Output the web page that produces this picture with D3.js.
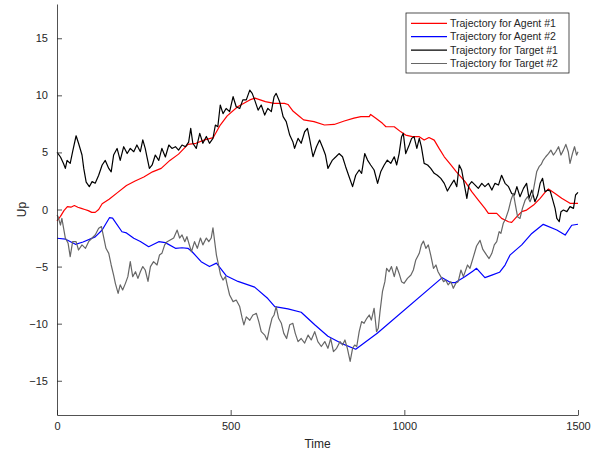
<!DOCTYPE html>
<html>
<head>
<meta charset="utf-8">
<script src="https://cdn.jsdelivr.net/npm/d3@7"></script>
<style>
  body { margin: 0; background: #fff; }
  svg text { font-family: "Liberation Sans", Arial, Helvetica, sans-serif; fill: #262626; }
  .axis path, .axis line { stroke: #262626; stroke-width: 0.8; }
  .traj { fill: none; stroke-width: 1.2; stroke-linejoin: round; }
</style>
</head>
<body>
<svg id="chart" width="605" height="455"></svg>
<script>
var seriesNames = ["Trajectory for Agent #1", "Trajectory for Agent #2", "Trajectory for Target #1", "Trajectory for Target #2"];
var seriesColors = ["#ff0000", "#0000ff", "#000000", "#666666"];
var xTicks = [0, 500, 1000, 1500];
var yTicks = [-15, -10, -5, 0, 5, 10, 15];

// [time, up]
var agent1 = [[0,-1.0],[10,-0.6],[20,-0.1],[30,0.25],[40,0.2],[50,0.35],[60,0.2],[70,0.1],[80,0.0],[90,-0.1],[100,-0.25],[110,-0.25],[120,0.0],[130,0.5],[150,0.9],[175,1.5],[200,2.1],[225,2.5],[250,2.85],[275,3.3],[300,3.6],[325,4.3],[350,4.85],[377,5.7],[400,5.8],[425,6.1],[450,6.3],[470,7.4],[490,8.2],[520,9.0],[555,9.6],[570,9.75],[600,9.45],[625,9.3],[655,9.3],[665,9.2],[680,8.6],[700,8.1],[710,7.85],[740,7.7],[770,7.4],[798,7.45],[827,7.75],[855,8.0],[875,8.13],[899,8.13],[903,8.33],[918,8.0],[937,7.55],[947,7.25],[971,7.25],[990,6.8],[1004,6.52],[1023,6.38],[1043,6.38],[1057,6.08],[1071,6.3],[1086,6.08],[1100,5.35],[1115,4.62],[1134,3.9],[1150,3.3],[1175,2.44],[1194,1.56],[1213,0.83],[1232,0.1],[1242,-0.34],[1266,-0.34],[1280,-0.78],[1300,-1.07],[1309,-1.13],[1324,-0.63],[1338,-0.19],[1352,-0.05],[1372,0.39],[1391,0.98],[1405,1.5],[1415,1.8],[1434,1.41],[1453,0.98],[1477,0.54],[1500,0.54]];

var agent2 = [[0,-2.52],[25,-2.6],[53,-3.05],[75,-2.85],[110,-2.4],[130,-1.8],[151,-0.72],[160,-0.75],[187,-1.95],[200,-2.05],[221,-2.52],[240,-2.8],[264,-3.26],[293,-2.82],[312,-2.9],[341,-3.4],[360,-3.35],[377,-3.4],[389,-3.7],[415,-4.57],[439,-5.0],[459,-4.7],[487,-5.8],[521,-6.3],[569,-6.8],[607,-7.8],[627,-8.5],[665,-8.7],[703,-9.0],[742,-10.1],[780,-11.1],[817,-11.7],[860,-12.24],[922,-10.84],[1109,-5.97],[1133,-6.4],[1147,-6.4],[1174,-5.9],[1197,-5.4],[1208,-5.15],[1232,-5.97],[1252,-5.75],[1274,-5.5],[1290,-4.87],[1304,-4.0],[1338,-3.1],[1367,-2.1],[1400,-1.3],[1439,-1.8],[1463,-2.24],[1482,-1.38],[1500,-1.29]];

var target1 = [[0,5.0],[3,4.9],[10,4.6],[19,4.0],[24,3.6],[29,4.3],[38,4.04],[45,5.06],[55,6.46],[62,5.8],[72,4.77],[77,3.6],[84,2.4],[93,2.0],[101,2.44],[110,2.3],[120,3.0],[130,3.9],[139,4.3],[149,3.6],[156,3.3],[163,4.77],[173,5.35],[182,4.3],[192,5.5],[202,4.9],[211,5.35],[221,5.06],[230,5.65],[240,5.06],[247,6.1],[254,5.35],[259,4.6],[266,3.6],[274,3.9],[283,4.77],[293,4.3],[302,5.35],[312,4.6],[322,5.65],[331,5.35],[341,5.5],[350,5.2],[360,5.65],[370,5.5],[379,5.9],[385,7.1],[391,5.8],[401,5.35],[411,6.67],[420,5.8],[430,6.4],[439,5.8],[449,6.23],[456,7.4],[463,7.25],[470,9.15],[478,8.4],[487,8.85],[497,8.57],[507,9.88],[516,9.0],[526,8.85],[535,9.6],[545,9.6],[555,10.46],[562,10.17],[569,9.6],[579,8.7],[588,9.15],[598,8.27],[607,8.86],[617,8.57],[625,9.88],[631,10.17],[641,9.44],[651,8.13],[660,7.7],[670,6.52],[679,5.94],[684,5.35],[694,6.23],[703,5.8],[713,6.81],[721,7.1],[727,6.23],[737,4.62],[747,5.5],[756,6.08],[766,5.35],[773,4.77],[780,3.6],[793,4.33],[803,4.62],[812,4.9],[822,4.62],[831,3.75],[841,2.87],[851,2.0],[860,3.0],[870,3.46],[877,3.17],[886,4.9],[894,4.33],[903,3.9],[913,3.46],[923,2.29],[932,3.3],[942,3.9],[951,4.33],[961,4.04],[971,4.62],[978,3.9],[985,4.9],[992,6.38],[997,6.67],[1004,4.9],[1014,5.65],[1021,6.23],[1028,6.38],[1036,5.35],[1043,6.23],[1049,5.5],[1057,4.04],[1067,3.9],[1076,3.6],[1086,3.17],[1095,3.0],[1105,2.73],[1115,2.29],[1124,1.62],[1134,2.14],[1143,2.58],[1151,2.0],[1158,3.9],[1165,3.46],[1173,2.14],[1180,0.98],[1186,2.14],[1194,2.44],[1204,2.14],[1213,1.85],[1223,2.29],[1232,2.0],[1242,2.29],[1252,1.7],[1261,2.29],[1271,2.14],[1280,3.0],[1290,2.29],[1300,2.0],[1309,1.41],[1317,1.27],[1324,2.0],[1333,1.12],[1343,1.85],[1352,2.29],[1359,0.98],[1367,1.7],[1376,0.68],[1384,1.27],[1391,2.29],[1398,2.73],[1405,1.56],[1413,1.7],[1420,1.62],[1426,0.98],[1434,0.1],[1439,-0.78],[1446,-1.07],[1451,-0.19],[1458,-0.05],[1468,-0.19],[1477,0.25],[1487,0.1],[1493,1.27],[1500,1.5]];

var target2 = [[0,-0.5],[3,-0.63],[10,-1.36],[14,-0.77],[24,-2.5],[32,-2.96],[38,-4.13],[45,-2.82],[55,-2.82],[62,-3.55],[72,-3.1],[82,-3.4],[91,-2.82],[101,-2.5],[110,-2.23],[120,-1.65],[128,-1.5],[134,-2.38],[141,-3.4],[149,-3.84],[156,-4.86],[163,-5.74],[168,-6.47],[176,-7.34],[182,-6.6],[189,-7.05],[197,-6.47],[204,-5.88],[211,-4.57],[218,-5.88],[226,-5.45],[233,-6.03],[240,-5.45],[247,-5.0],[254,-5.3],[262,-6.3],[269,-5.0],[278,-4.57],[288,-4.86],[295,-3.99],[302,-3.84],[310,-3.1],[317,-2.82],[326,-2.67],[336,-2.5],[346,-1.8],[353,-2.5],[360,-2.23],[368,-2.82],[374,-2.38],[381,-3.1],[387,-3.7],[396,-2.82],[404,-3.4],[413,-2.5],[420,-3.1],[430,-2.5],[437,-2.82],[444,-2.5],[449,-1.6],[454,-2.82],[459,-3.99],[465,-4.86],[471,-5.74],[478,-6.18],[485,-5.88],[490,-6.6],[497,-7.49],[507,-8.07],[516,-7.93],[526,-8.5],[533,-9.5],[538,-10.1],[545,-9.4],[555,-9.7],[564,-9.24],[574,-9.1],[581,-9.82],[588,-10.7],[598,-11.0],[605,-11.43],[612,-10.4],[619,-9.53],[625,-9.24],[631,-8.5],[638,-9.53],[646,-9.97],[653,-10.85],[661,-11.3],[670,-10.1],[679,-9.97],[686,-10.85],[694,-11.57],[703,-11.3],[713,-11.7],[723,-11.0],[732,-11.43],[742,-10.7],[751,-11.57],[761,-12.0],[771,-11.57],[780,-12.16],[788,-11.3],[796,-12.45],[805,-12.16],[815,-11.57],[822,-11.87],[829,-11.43],[836,-12.16],[844,-13.3],[851,-12.16],[857,-11.87],[863,-12.0],[870,-10.7],[877,-9.82],[884,-9.97],[892,-9.53],[899,-9.24],[905,-9.68],[913,-8.65],[920,-10.7],[925,-10.4],[930,-8.95],[937,-7.2],[944,-6.32],[949,-5.15],[956,-5.45],[963,-5.0],[971,-5.88],[978,-5.0],[985,-5.6],[992,-6.32],[999,-6.47],[1009,-6.03],[1019,-5.74],[1026,-5.3],[1033,-4.42],[1043,-3.84],[1049,-3.1],[1055,-2.76],[1062,-3.4],[1069,-3.1],[1076,-3.99],[1084,-5.15],[1091,-4.86],[1097,-5.45],[1105,-5.88],[1113,-6.32],[1119,-6.18],[1126,-6.6],[1134,-6.32],[1141,-6.9],[1148,-6.47],[1155,-6.32],[1163,-5.3],[1170,-5.88],[1182,-4.86],[1189,-5.15],[1199,-4.13],[1208,-3.2],[1218,-2.7],[1226,-3.5],[1237,-4.0],[1244,-4.3],[1252,-3.84],[1259,-3.1],[1266,-2.82],[1273,-1.94],[1278,-2.09],[1285,-1.2],[1292,-0.78],[1300,-0.05],[1307,0.83],[1314,1.41],[1319,0.54],[1326,-0.63],[1333,-0.78],[1340,0.1],[1348,0.83],[1355,1.12],[1362,0.68],[1369,1.27],[1376,2.44],[1381,3.3],[1388,3.75],[1394,3.95],[1400,4.33],[1407,4.62],[1415,4.9],[1422,5.2],[1429,4.77],[1436,5.06],[1444,5.5],[1451,4.77],[1458,5.2],[1465,5.7],[1472,5.06],[1477,4.04],[1484,4.9],[1490,5.5],[1496,4.77],[1500,5.06]];

(function() {
  var svg = d3.select("#chart"),
      margin = {top: 4, right: 27, bottom: 40, left: 57},
      width = +svg.attr("width") - margin.left - margin.right,
      height = +svg.attr("height") - margin.top - margin.bottom;

  var x = d3.scaleLinear().domain([0, 1500]).range([0, width]),
      y = d3.scaleLinear().domain([-18, 18]).range([height, 0]);

  var g = svg.append("g")
      .attr("transform", "translate(" + margin.left + "," + margin.top + ")");

  var line = d3.line()
      .x(function(d) { return x(d[0]); })
      .y(function(d) { return y(d[1]); });

  var allSeries = [agent1, agent2, target1, target2];

  g.selectAll(".traj")
    .data(allSeries)
    .enter().append("path")
      .attr("class", "traj")
      .attr("stroke", function(d, i) { return seriesColors[i]; })
      .attr("d", line);

  g.append("g")
      .attr("class", "axis axis--x")
      .attr("transform", "translate(0," + height + ")")
      .call(d3.axisBottom(x).tickValues(xTicks).tickFormat(d3.format("d"))
            .tickSizeInner(-5).tickSizeOuter(0).tickPadding(7))
      .selectAll("text").style("font-size", "11px");

  g.append("g")
      .attr("class", "axis axis--y")
      .call(d3.axisLeft(y).tickValues(yTicks).tickSizeInner(-5).tickSizeOuter(0).tickPadding(9))
      .selectAll("text").style("font-size", "11px");

  g.append("text")
      .attr("x", width / 2)
      .attr("y", height + 33)
      .attr("text-anchor", "middle")
      .style("font-size", "12px")
      .text("Time");

  g.append("text")
      .attr("transform", "rotate(-90)")
      .attr("x", -y(0))
      .attr("y", -31)
      .attr("text-anchor", "middle")
      .style("font-size", "12px")
      .text("Up");

  // legend box, top right
  var legend = svg.append("g")
      .attr("transform", "translate(406,13)");

  legend.append("rect")
      .attr("width", 163)
      .attr("height", 60)
      .attr("fill", "#fff")
      .attr("stroke", "#262626")
      .attr("stroke-width", 0.8);

  var item = legend.selectAll(".item")
    .data(seriesNames)
    .enter().append("g")
      .attr("class", "item")
      .attr("transform", function(d, i) { return "translate(0," + (10.3 + i * 13.4) + ")"; });

  item.append("line")
      .attr("x1", 5).attr("x2", 41)
      .attr("stroke", function(d, i) { return seriesColors[i]; })
      .attr("stroke-width", 1.2);

  item.append("text")
      .attr("x", 44)
      .attr("dy", "0.35em")
      .style("font-size", "10.5px")
      .text(function(d) { return d; });
})();
</script>
</body>
</html>
